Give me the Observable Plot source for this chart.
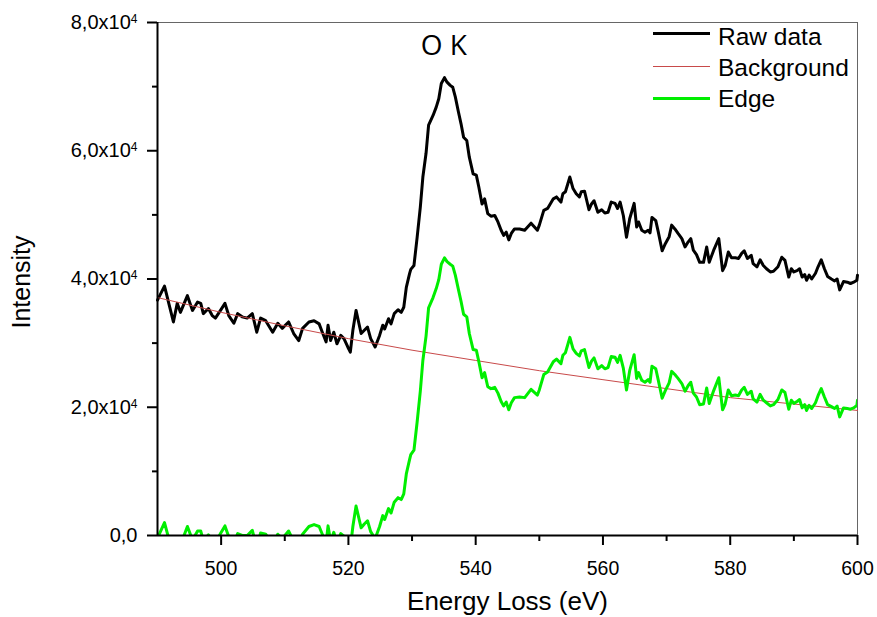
<!DOCTYPE html>
<html><head><meta charset="utf-8">
<script src="https://cdn.jsdelivr.net/npm/d3@7"></script>
<script src="https://cdn.jsdelivr.net/npm/@observablehq/plot@0.6"></script>
<style>body{margin:0;background:#fff}#chart{width:877px;height:617px}</style>
</head><body><div id="chart"></div>
<script>
// Energy loss (eV) sample positions
const energy = [490.0,491.1,492.5,493.1,493.6,494.7,495.5,496.3,496.8,497.2,498.0,498.6,499.1,499.9,500.6,501.2,502.0,502.6,503.3,504.1,504.9,505.6,506.2,507.0,508.1,508.9,509.6,510.6,511.4,512.2,512.8,513.8,514.6,515.4,515.9,516.5,516.8,517.2,517.7,518.2,518.8,519.3,519.9,520.3,520.7,521.2,522.0,522.5,523.0,523.5,524.2,524.9,525.4,525.7,526.3,526.7,527.2,527.8,528.3,528.7,529.1,529.6,529.8,530.3,530.8,531.3,531.7,532.2,532.6,533.3,533.8,534.2,534.6,535.1,535.5,536.0,536.4,536.8,537.3,537.7,538.1,538.6,539.0,539.6,540.1,540.5,541.0,541.4,541.9,542.4,543.0,543.5,544.0,544.4,544.8,545.2,545.6,546.1,546.9,547.7,548.7,549.7,550.0,550.7,551.3,552.2,552.7,553.4,553.7,554.1,554.8,555.3,555.8,556.3,556.6,557.1,557.8,558.2,558.6,559.2,559.8,560.3,560.8,561.3,561.9,562.3,562.7,563.2,563.7,564.2,564.9,565.3,565.6,566.1,566.6,567.1,567.4,567.7,568.3,568.7,569.3,569.8,570.4,570.8,571.3,571.8,572.4,572.9,573.4,573.8,574.2,574.7,575.2,575.8,576.3,576.7,577.4,578.2,578.8,579.2,579.7,580.2,580.8,581.3,581.8,582.2,582.7,583.3,583.6,584.2,584.7,585.2,585.7,586.3,586.8,587.5,588.1,588.6,589.2,589.6,590.0,590.5,590.9,591.3,591.7,592.0,592.4,592.8,593.4,593.8,594.3,594.8,595.3,595.9,596.4,596.8,597.2,597.8,598.4,598.9,599.4,599.9,600.0];

// Raw data intensity
const rawData = [36700,38900,33300,36200,34800,37400,35100,36400,36200,34600,35400,34300,33900,35100,36200,34300,33100,34600,34100,33900,34600,31700,33900,33500,31700,33100,32300,33300,31500,30400,32300,33300,33500,33000,31700,30200,32800,30400,31700,29900,31200,30700,29400,28600,32000,35100,31500,32000,32500,30700,29400,31200,32800,32200,33800,33000,34600,35200,34800,35600,38700,40800,41500,42100,46500,51200,55900,59600,64000,65500,66800,68100,70500,71400,70700,70200,69900,68400,66000,64200,62100,61600,59000,56400,56200,54300,51700,52500,50200,49800,49900,48900,47600,46800,47300,46100,47100,47800,47800,47600,48700,47600,48400,50700,51000,52500,52800,52000,53300,53600,55900,54100,53300,52800,53600,53700,50800,51700,52200,50400,50800,50300,50400,52000,51800,51000,52000,49900,46500,49400,51800,48100,48900,47600,47300,47600,47200,49600,49100,47300,44400,45500,46600,48400,47800,47100,46300,45000,45800,46300,44500,43800,42600,42600,45000,42600,44500,46300,41300,42100,44200,43300,43300,43200,44000,44400,43200,43700,42400,41900,43000,42100,41600,41100,41200,41900,43400,42900,40300,41600,41100,41300,41600,40300,40700,39800,40600,40000,40900,41900,43000,41600,40400,40000,39700,40000,38300,39600,39500,39300,39500,39800,40600];

// Edge intensity (same energies)
const edgeData = [-400,2000,-3200,-200,-1500,1400,-700,700,700,-800,100,-800,-1100,300,1500,-200,-1300,300,0,0,800,-1900,400,200,-1400,200,-500,700,-900,-1900,200,1400,1700,1400,200,-1200,1500,-900,500,-1200,300,-100,-1300,-2000,1400,4600,1200,1800,2300,600,-500,1400,3100,2500,4200,3500,5200,5900,5600,6500,9600,11800,12600,13300,17700,22500,27300,31100,35500,37100,38500,39900,42300,43300,42700,42300,42000,40600,38300,36500,34500,34100,31500,29000,28900,27100,24600,25400,23200,22900,23100,22200,20900,20200,20800,19600,20700,21500,21600,21500,22800,21900,22700,25100,25500,27100,27500,26800,28100,28500,30900,29100,28400,28000,28800,29000,26200,27200,27700,26000,26500,26000,26200,27900,27800,27000,28100,26100,22700,25700,28200,24500,25400,24200,23900,24300,23900,26400,26000,24200,21400,22600,23800,25600,25100,24500,23700,22500,23400,23900,22200,21600,20400,20500,23000,20600,22600,24600,19600,20500,22700,21800,21900,21800,22700,23100,22000,22500,21300,20800,22000,21100,20700,20200,20400,21200,22700,22300,19700,21100,20600,20900,21200,19900,20400,19500,20300,19800,20700,21800,22900,21600,20400,20100,19800,20200,18500,19900,19800,19700,19900,20300,21100];

// Background fit
const bgEnergy = [490,500,510,520,530,540,550,560,570,580,590,600];
const bgValues = [37100,34800,32700,30700,28900,27300,25700,24300,22900,21500,20500,19500];

// Axis ticks
const xMajor = [500,520,540,560,580,600];
const xMinor = [510,530,550,570,590];
const yMajor = [0,20000,40000,60000,80000];
const yMinor = [10000,30000,50000,70000];
const yTickLabels = ["0,0","2,0x10","4,0x10","6,0x10","8,0x10"];

// Texts
const seriesNames = ["Raw data","Background","Edge"];
const annotation = [{label:"O K", energy:535, intensity:76300}];
const xTitle = "Energy Loss (eV)";
const yTitle = "Intensity";

const colors = {raw:"#000000", bg:"#c84a4a", edge:"#00ee00"};

if (energy.length !== rawData.length || energy.length !== edgeData.length) {
  document.body.insertAdjacentHTML("afterbegin", "<p>LENGTH MISMATCH " + energy.length + " " + rawData.length + " " + edgeData.length + "</p>");
}

const rawTable = energy.map((e,i)=>({e, v: rawData[i]}));
const edgeTable = energy.map((e,i)=>({e, v: edgeData[i]}));
const bgTable = bgEnergy.map((e,i)=>({e, v: bgValues[i]}));

const font = "'Liberation Sans', Arial, sans-serif";

const chart = Plot.plot({
  width: 877, height: 617,
  marginLeft: 157, marginRight: 20, marginTop: 22, marginBottom: 82,
  style: {fontFamily: font, background: "white", overflow: "visible", color: "#000"},
  x: {domain: [490, 600]},
  y: {domain: [0, 80000]},
  marks: [
    Plot.ruleY([80000], {stroke: "#666", strokeWidth: 1}),
    Plot.ruleX([600], {stroke: "#666", strokeWidth: 1}),
    Plot.line(rawTable, {x: "e", y: "v", stroke: colors.raw, strokeWidth: 3}),
    Plot.line(bgTable, {x: "e", y: "v", stroke: colors.bg, strokeWidth: 1}),
    Plot.line(edgeTable, {x: "e", y: "v", stroke: colors.edge, strokeWidth: 3, clip: true}),
    Plot.axisX({ticks: xMajor, tickSize: 10, tickPadding: 16, fontSize: 19.5, strokeWidth: 2, label: null, tickFormat: d => String(d)}),
    Plot.axisX({ticks: xMinor, tickSize: 6, strokeWidth: 2, label: null, tickFormat: () => ""}),
    Plot.axisY({ticks: yMajor, tickSize: 10, tickPadding: 10, fontSize: 20, strokeWidth: 2, label: null,
      tickFormat: d => yTickLabels[yMajor.indexOf(d)]}),
    Plot.axisY({ticks: yMinor, tickSize: 5, strokeWidth: 2, label: null, tickFormat: () => ""}),
    Plot.ruleY([0], {stroke: "#000", strokeWidth: 2}),
    Plot.ruleX([490], {stroke: "#000", strokeWidth: 2}),
    Plot.text([xTitle], {text: d => d, frameAnchor: "bottom", textAnchor: "middle", lineAnchor: "middle", dy: 66, fontSize: 26}),
    Plot.text([yTitle], {text: d => d, frameAnchor: "left", textAnchor: "middle", lineAnchor: "middle", dx: -136, dy: 3, rotate: -90, fontSize: 25}),
    Plot.text(annotation, {x: "energy", y: "intensity", text: "label", fontSize: 28, fontFamily: "'Open Sans', sans-serif"})
  ]
});

document.getElementById("chart").appendChild(chart);

// superscript exponent on y tick labels
d3.select(chart).selectAll('g[aria-label="y-axis tick label"] text').each(function() {
  const t = this.textContent;
  if (t.endsWith("x10")) {
    d3.select(this).append("tspan").attr("dy", "-0.5em").attr("font-size", 12).text("4");
  }
});

// legend
const svg = d3.select(chart);
const legendRows = [
  {name: seriesNames[0], color: colors.raw, w: 3, ly: 33.5, ty: 44.5},
  {name: seriesNames[1], color: colors.bg, w: 1, ly: 66.5, ty: 76},
  {name: seriesNames[2], color: colors.edge, w: 3, ly: 98.5, ty: 107}
];
const lg = svg.append("g").attr("font-family", font).attr("font-size", 24.5).attr("text-anchor", "start");
for (const r of legendRows) {
  lg.append("line").attr("x1", 653).attr("x2", 710).attr("y1", r.ly).attr("y2", r.ly)
    .attr("stroke", r.color).attr("stroke-width", r.w);
  lg.append("text").attr("x", 718).attr("y", r.ty).attr("fill", "#000").attr("text-anchor", "start").text(r.name);
}
</script></body></html>
